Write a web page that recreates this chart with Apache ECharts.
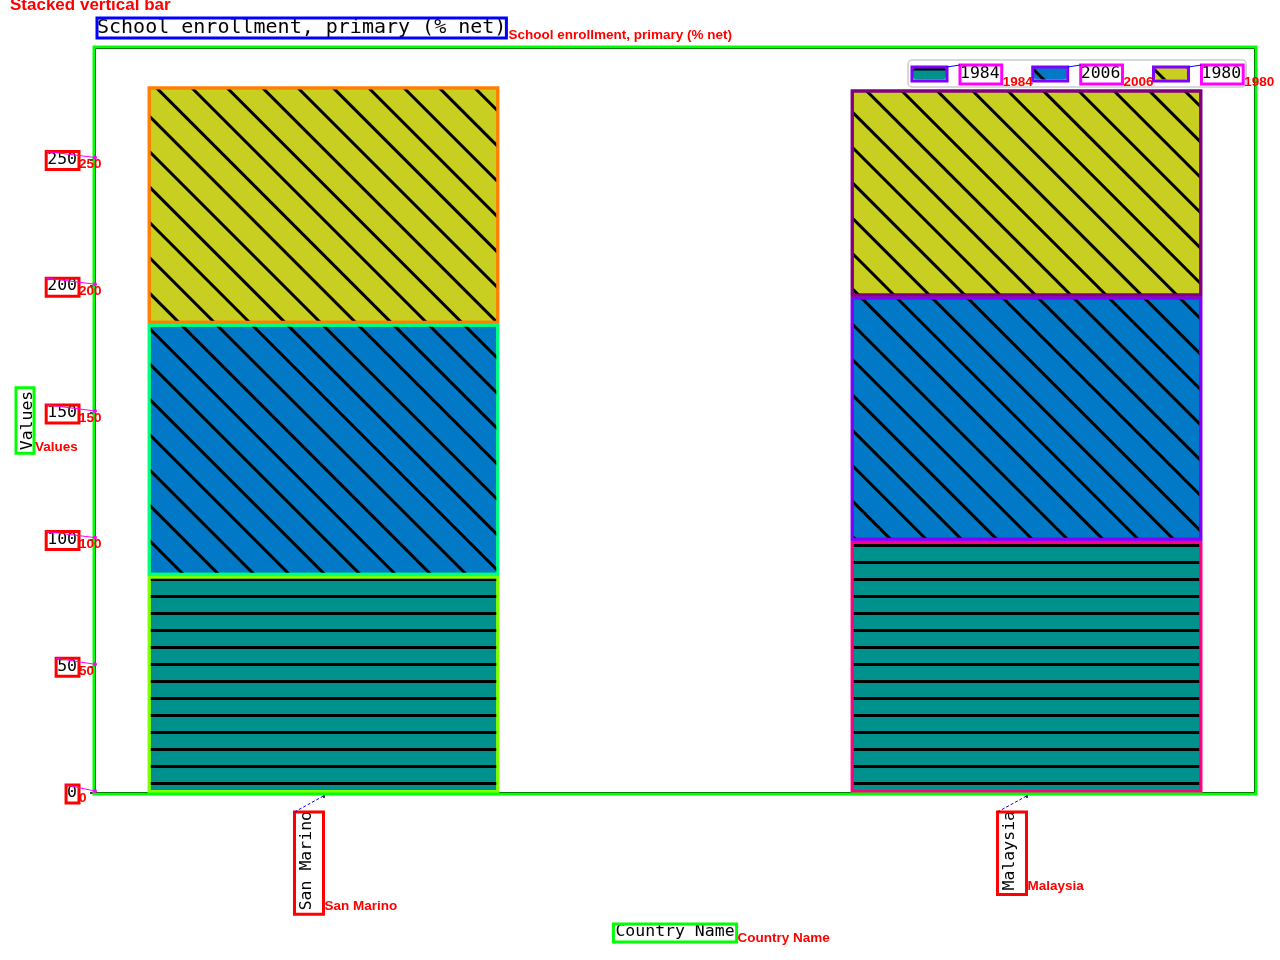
<!DOCTYPE html>
<html><head><meta charset="utf-8">
<script src="https://cdn.jsdelivr.net/npm/echarts@6/dist/echarts.min.js"></script>
<style>html,body{margin:0;padding:0;background:#fff}#c{width:1280px;height:960px}</style>
</head><body><div id="c"></div>
<script>
// ---- data ----
const categories = ['San Marino', 'Malaysia'];
const seriesNames = ['1984', '2006', '1980'];
const values1984 = [85.7, 99.5];
const values2006 = [99.5, 96.4];
const values1980 = [93.6, 81.7];
const yTickValues = [0, 50, 100, 150, 200, 250];
const titleText = 'School enrollment, primary (% net)';
const xAxisTitle = 'Country Name';
const yAxisTitle = 'Values';
const chartKind = 'Stacked vertical bar';

// ---- styles / layout ----
const MONO = '"DejaVu Sans Mono", monospace';
const ANN = 'bold 13.5px "Liberation Sans", sans-serif';
const W = 1280, H = 960;
const G = {left: 95, top: 48, right: 25, bottom: 167};
// matplotlib-like x range: bars of width 0.5 at 0 and 1, 0.075 margin -> [-0.325, 1.325]
const XPAD = 0.325;
const FS = 16.5, TFS = 20;
const Y_MAX = 294;
const barColors = ['#00918c', '#0279c6', '#c8cf20'];
const edgeColors = [['#80ff00', '#ff0080'], ['#00ff80', '#8000ff'], ['#ff8000', '#800080']];
const hatches = [
  {symbol: 'rect', symbolSize: 1, color: '#000', dashArrayX: [1, 0], dashArrayY: [3, 14], rotation: 0},
  {symbol: 'rect', symbolSize: 1, color: '#000', dashArrayX: [1, 0], dashArrayY: [3, 22], rotation: Math.PI / 4},
  {symbol: 'rect', symbolSize: 1, color: '#000', dashArrayX: [1, 0], dashArrayY: [3, 22], rotation: Math.PI / 4}
];
const NG_X = 130, NG_Y = 59, LAB_MARGIN = 18, XLAB_MARGIN = 18;

const gx0 = G.left, gy0 = G.top, gx1 = W - G.right, gy1 = H - G.bottom;
const plotW = gx1 - gx0;
const unitPx = plotW / (categories.length - 1 + 2 * XPAD);   // px per category step
const barGridLeft = gx0 + XPAD * unitPx - unitPx / 2;
const barGridW = unitPx * categories.length;

const allValues = [values1984, values2006, values1980];
const chart = echarts.init(document.getElementById('c'));

const series = seriesNames.map((name, si) => ({
  name, type: 'bar', stack: 'total', barWidth: '50%',
  xAxisIndex: 1, yAxisIndex: 1,
  itemStyle: {color: barColors[si], decal: hatches[si]},
  data: allValues[si].map((v, ci) => ({
    value: v,
    itemStyle: {borderColor: edgeColors[si][ci], borderWidth: 3}
  }))
}));

chart.setOption({
  animation: false,
  backgroundColor: '#fff',
  title: {text: titleText, left: 97, top: 18, padding: 0,
    textStyle: {fontFamily: MONO, fontSize: TFS, fontWeight: 'normal', color: '#000'}},
  legend: {
    left: 908, top: 60, padding: [5, 5, 5, 5], itemWidth: 33, itemHeight: 12, itemGap: 34,
    backgroundColor: 'rgba(255,255,255,0.8)', borderColor: '#cccccc', borderWidth: 1.5, borderRadius: 4,
    textStyle: {fontFamily: MONO, fontSize: FS, color: '#000', padding: [0, 0, 0, 9]},
    data: seriesNames
  },
  grid: [
    {left: G.left, top: G.top, right: G.right, bottom: G.bottom, show: true,
      borderColor: '#000', borderWidth: 2, containLabel: false, outerBoundsMode: 'none'},
    {left: barGridLeft, top: G.top, width: barGridW, bottom: G.bottom, containLabel: false,
      outerBoundsMode: 'none'}
  ],
  xAxis: [
    {
      gridIndex: 0, type: 'value', min: 0, max: 1,
      name: xAxisTitle, nameLocation: 'middle', nameGap: NG_X,
      nameTextStyle: {fontFamily: MONO, fontSize: FS, color: '#000'},
      axisLine: {show: true, onZero: false, lineStyle: {color: '#000', width: 2}},
      axisTick: {show: false}, axisLabel: {show: false}, splitLine: {show: false}
    },
    {
      gridIndex: 1, type: 'category', data: categories,
      axisLine: {show: false, onZero: false},
      axisTick: {show: true, alignWithLabel: true, length: 5, lineStyle: {color: '#000', width: 1.5}},
      axisLabel: {rotate: 90, margin: XLAB_MARGIN, verticalAlign: 'bottom', padding: [0, 0, 8, 0],
        fontFamily: MONO, fontSize: FS, color: '#000'},
      splitLine: {show: false}
    }
  ],
  yAxis: [
    {
      gridIndex: 0, type: 'value', min: 0, max: Y_MAX,
      name: yAxisTitle, nameLocation: 'middle', nameGap: NG_Y, nameRotate: 90,
      nameTextStyle: {fontFamily: MONO, fontSize: FS, color: '#000'},
      axisLine: {show: true, onZero: false, lineStyle: {color: '#000', width: 2}},
      axisTick: {show: true, customValues: yTickValues, length: 5, lineStyle: {color: '#000', width: 1.5}},
      axisLabel: {customValues: yTickValues, margin: LAB_MARGIN, fontFamily: MONO, fontSize: FS, color: '#000'},
      splitLine: {show: false}
    },
    {
      gridIndex: 1, type: 'value', min: 0, max: Y_MAX, show: false,
      axisLine: {show: false, onZero: false}, splitLine: {show: false}
    }
  ],
  series
});

// ---- annotation overlay, computed from the chart layout ----
const ctx = document.createElement('canvas').getContext('2d');
function tw(t, font) { ctx.font = font; return ctx.measureText(t).width; }
const monoFont = FS + 'px "DejaVu Sans Mono"';
function box(x, y, w, h, color, lw) {
  return {type: 'rect', z: 100, shape: {x, y, width: w, height: h},
    style: {fill: null, stroke: color, lineWidth: lw || 3}};
}
function lab(x, y, text, font) {
  return {type: 'text', z: 101, x, y,
    style: {text, fill: '#ff0000', font: font || ANN, align: 'left', verticalAlign: 'bottom',
      textAlign: 'left', textVerticalAlign: 'bottom'}};
}
function line(x1, y1, x2, y2, color, lw, dash) {
  return {type: 'line', z: 100, shape: {x1, y1, x2, y2},
    style: {stroke: color, lineWidth: lw || 1, lineDash: dash || null}};
}
const els = [];
els.push(lab(10, 14, chartKind, 'bold 17px "Liberation Sans", sans-serif'));
// title
const tW = tw(titleText, TFS + 'px "DejaVu Sans Mono"');
els.push(box(97, 18, tW, 20, '#0000ff', 3));
els.push(lab(97 + tW + 2, 42, titleText));
// plot area
els.push(box(gx0 - 1, gy0 - 1, plotW + 2, gy1 - gy0 + 2, '#00ff00', 3));
// y ticks
yTickValues.forEach(v => {
  const p = chart.convertToPixel({gridIndex: 0}, [0, v]);
  const t = String(v), w = tw(t, monoFont);
  const right = gx0 - LAB_MARGIN + 1;
  els.push(box(right - w - 2, p[1] - 8, w + 3, 18, '#ff0000', 3));
  els.push(line(right - w - 2, p[1] - 8, gx0, p[1] - 2, '#ff00ff', 1));
  els.push({type: 'circle', z: 101, shape: {cx: gx0, cy: p[1] - 2, r: 2}, style: {fill: '#ff00ff'}});
  els.push(lab(right + 1, p[1] + 12, t));
});
// x ticks
categories.forEach((c, i) => {
  const p = chart.convertToPixel({xAxisIndex: 1, yAxisIndex: 1}, [i, 0]);
  const w = tw(c, monoFont);
  const top = gy1 + XLAB_MARGIN + 1;
  els.push(box(p[0] - 29, top, 29, w + 3, '#ff0000', 3));
  els.push(line(p[0] - 29, top, p[0], gy1 + 3, '#0000ff', 1, [3, 2]));
  els.push(lab(p[0] + 1, top + w + 2, c));
});
// axis names
const vW = tw(yAxisTitle, monoFont);
const cy = (gy0 + gy1) / 2;
els.push(box(gx0 - NG_Y - 20, cy - vW / 2 - 3, 18, vW + 6, '#00ff00', 3));
els.push(lab(gx0 - NG_Y - 1, cy + vW / 2 + 4, yAxisTitle));
const cW = tw(xAxisTitle, monoFont);
const cx = (gx0 + gx1) / 2;
els.push(box(cx - cW / 2 - 2, gy1 + NG_X + 1, cW + 4, 18, '#00ff00', 3));
els.push(lab(cx + cW / 2 + 3, gy1 + NG_X + 22, xAxisTitle));
// legend
let lx = 908 + 5;
seriesNames.forEach((n, i) => {
  const w = tw(n, monoFont);
  els.push(box(lx - 1, 67, 35, 14, '#7f00ff', 3));
  els.push(box(lx + 33 + 14, 65, w + 2, 19, '#ff00ff', 3));
  els.push(line(lx + 34, 67, lx + 33 + 14, 65, '#0000ff', 1));
  els.push(lab(lx + 33 + 14 + w + 3, 89, n));
  lx += 33 + 14 + w + 34;
});
chart.setOption({graphic: {elements: els}});
</script>
</body></html>
